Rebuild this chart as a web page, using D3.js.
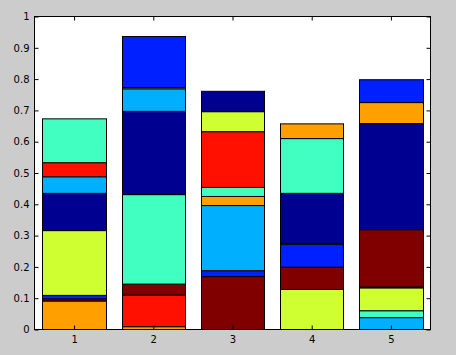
<!DOCTYPE html>
<html><head><meta charset="utf-8">
<script src="https://cdn.jsdelivr.net/npm/d3@7"></script>
<style>
html,body{margin:0;padding:0;background:#cccccc;}
svg{display:block;}
</style></head>
<body>
<script>
// jet-colormap samples used by the series
const palette = ["#000090","#0020ff","#00b0ff","#40ffc0","#cfff30","#ffa000","#ff1000","#800000"];
const categories = [1, 2, 3, 4, 5];
const yTicks = [0, 0.1, 0.2, 0.3, 0.4, 0.5, 0.6, 0.7, 0.8, 0.9, 1];
// per bar, bottom-up: colour index and segment height
const bar1Colors = [5, 7, 1, 4, 0, 2, 6, 3];
const bar1Values = [0.091, 0.007, 0.011, 0.207, 0.119, 0.053, 0.045, 0.140];
const bar2Colors = [5, 6, 7, 3, 0, 2, 4, 1];
const bar2Values = [0.009, 0.101, 0.035, 0.286, 0.266, 0.072, 0.004, 0.163];
const bar3Colors = [7, 1, 2, 5, 3, 6, 4, 0];
const bar3Values = [0.169, 0.019, 0.208, 0.029, 0.029, 0.178, 0.064, 0.065];
const bar4Colors = [4, 7, 1, 2, 0, 3, 5, 6];
const bar4Values = [0.128, 0.071, 0.073, 0.003, 0.160, 0.175, 0.047, 0.000];
const bar5Colors = [2, 3, 4, 6, 7, 0, 5, 1];
const bar5Values = [0.038, 0.022, 0.073, 0.003, 0.183, 0.339, 0.067, 0.073];

const barColors = [bar1Colors, bar2Colors, bar3Colors, bar4Colors, bar5Colors];
const barValues = [bar1Values, bar2Values, bar3Values, bar4Values, bar5Values];

const W = 456, H = 355;
const L = 34.5, R = 430.5, T = 16.5, B = 329.5;
const svg = d3.select("body").append("svg").attr("width", W).attr("height", H);
svg.append("rect").attr("width", W).attr("height", H).attr("fill", "#cccccc");
svg.append("rect").attr("x", L).attr("y", T).attr("width", R - L).attr("height", B - T).attr("fill", "#ffffff");

const x = d3.scaleLinear().domain([0.5, 5.5]).range([L, R]);
const y = d3.scaleLinear().domain([0, 1]).range([B, T]);
const bw = 0.8;

const segs = [];
categories.forEach((c, i) => {
  let acc = 0;
  barValues[i].forEach((v, j) => {
    segs.push({cat: c, y0: acc, y1: acc + v, color: palette[barColors[i][j]]});
    acc += v;
  });
});

svg.append("g").selectAll("rect").data(segs).join("rect")
  .attr("x", d => Math.round(x(d.cat - bw / 2)) + 0.5)
  .attr("width", d => Math.round(x(d.cat + bw / 2)) - Math.round(x(d.cat - bw / 2)))
  .attr("y", d => y(d.y1))
  .attr("height", d => y(d.y0) - y(d.y1))
  .attr("fill", d => d.color)
  .attr("stroke", "#000")
  .attr("stroke-width", 1);

const font = "'DejaVu Sans', sans-serif";
function style(g) {
  g.select(".domain").remove();
  g.selectAll("line").attr("stroke", "#000");
  g.selectAll("text").attr("font-family", font).attr("font-size", 10).attr("fill", "#000");
}
svg.append("g").attr("transform", `translate(${L},0)`)
  .call(d3.axisLeft(y).tickValues(yTicks).tickFormat(d3.format("")).tickSize(-4).tickPadding(5)).call(style);
svg.append("g").attr("transform", `translate(${R},0)`)
  .call(d3.axisRight(y).tickValues(yTicks).tickFormat("").tickSize(-4)).call(style);
svg.append("g").attr("transform", `translate(0,${B})`)
  .call(d3.axisBottom(x).tickValues(categories).tickFormat(d3.format("d")).tickSize(-4).tickPadding(6)).call(style);
svg.append("g").attr("transform", `translate(0,${T})`)
  .call(d3.axisTop(x).tickValues(categories).tickFormat("").tickSize(-4)).call(style);

svg.append("rect").attr("x", L).attr("y", T).attr("width", R - L).attr("height", B - T)
  .attr("fill", "none").attr("stroke", "#000").attr("stroke-width", 1);
</script>
</body></html>
